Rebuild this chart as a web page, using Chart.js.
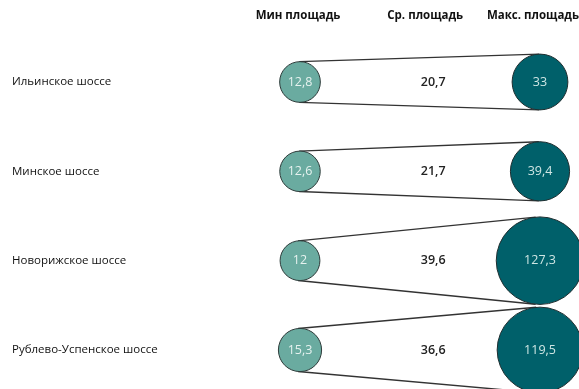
<!DOCTYPE html>
<html>
<head>
<meta charset="utf-8">
<script src="https://cdn.jsdelivr.net/npm/chart.js@4"></script>
<style>
  html, body { margin: 0; padding: 0; background: #fff; }
  #wrap { width: 579px; height: 389px; }
</style>
</head>
<body>
<div id="wrap"><canvas id="grafico"></canvas></div>
<script>
const shosse = ['Ильинское шоссе', 'Минское шоссе', 'Новорижское шоссе', 'Рублево-Успенское шоссе'];
const colunas = ['Мин площадь', 'Ср. площадь', 'Макс. площадь'];
const minPlosh = [12.8, 12.6, 12, 15.3];
const srPlosh = [20.7, 21.7, 39.6, 36.6];
const maxPlosh = [33, 39.4, 127.3, 119.5];

// where each column sits on the x scale
const colX = [0, 1.11, 2];

const fonte = 'Open Sans, Lato, sans-serif';

function raio(v) {
  return 8.7 * Math.cbrt(v);
}

function fmt(v) {
  return String(v).replace('.', ',');
}

function pontos(valores, col, comRaio) {
  return valores.map((v, i) => ({ x: colX[col], y: shosse[i], r: comRaio ? raio(v) : 0, v: v }));
}

// outer tangent lines joining the min and max circles of each row
const tangentes = {
  id: 'tangentes',
  beforeDatasetsDraw(chart) {
    const ctx = chart.ctx;
    const a = chart.getDatasetMeta(0).data;
    const b = chart.getDatasetMeta(2).data;
    ctx.save();
    ctx.strokeStyle = '#333';
    ctx.lineWidth = 1.4;
    a.forEach((p, i) => {
      const q = b[i];
      const r1 = p.options.radius, r2 = q.options.radius;
      const dx = q.x - p.x, dy = q.y - p.y;
      const d = Math.hypot(dx, dy);
      const th = Math.atan2(dy, dx);
      const al = Math.acos((r1 - r2) / d);
      [1, -1].forEach(s => {
        const ang = th + s * al;
        ctx.beginPath();
        ctx.moveTo(p.x + r1 * Math.cos(ang), p.y + r1 * Math.sin(ang));
        ctx.lineTo(q.x + r2 * Math.cos(ang), q.y + r2 * Math.sin(ang));
        ctx.stroke();
      });
    });
    ctx.restore();
  }
};

// value labels inside the circles and in the middle column, plus column headers
const rotulos = {
  id: 'rotulos',
  afterDatasetsDraw(chart) {
    const ctx = chart.ctx;
    const cores = ['#e6f2ef', '#222', '#cfe6e4'];
    const pesos = ['500', '600', '500'];
    ctx.save();
    ctx.textAlign = 'center';
    ctx.textBaseline = 'middle';
    chart.data.datasets.forEach((ds, k) => {
      ctx.font = pesos[k] + ' 12.5px ' + fonte;
      ctx.fillStyle = cores[k];
      chart.getDatasetMeta(k).data.forEach((el, i) => {
        ctx.fillText(fmt(ds.data[i].v), el.x, el.y);
      });
    });

    const xs = chart.scales.x;
    ctx.font = 'bold 11.5px ' + fonte;
    ctx.fillStyle = '#111';
    const deslocHeader = [-2, -8, -7];
    colunas.forEach((c, i) => {
      ctx.fillText(c, xs.getPixelForValue(colX[i]) + deslocHeader[i], 16);
    });
    ctx.restore();
  }
};

const ctx = document.getElementById('grafico').getContext('2d');
const grafico = new Chart(ctx, {
  type: 'bubble',
  data: {
    datasets: [
      {
        label: colunas[0],
        data: pontos(minPlosh, 0, true),
        backgroundColor: '#6aaba0',
        borderColor: '#2e3b3a',
        borderWidth: 1,
        clip: false
      },
      {
        label: colunas[1],
        data: pontos(srPlosh, 1, false),
        backgroundColor: 'rgba(0,0,0,0)',
        borderWidth: 0,
        clip: false
      },
      {
        label: colunas[2],
        data: pontos(maxPlosh, 2, true),
        backgroundColor: '#00606a',
        borderColor: '#1f2e30',
        borderWidth: 1,
        clip: false
      }
    ]
  },
  options: {
    responsive: true,
    maintainAspectRatio: false,
    animation: false,
    events: [],
    layout: { autoPadding: false, padding: { left: 12, right: 0, top: 0, bottom: 39 } },
    plugins: { legend: { display: false }, tooltip: { enabled: false } },
    scales: {
      x: {
        type: 'linear',
        position: 'top',
        bounds: 'data',
        min: -0.1667,
        max: 2.325,
        grid: { display: false },
        border: { display: false },
        ticks: { display: false },
        afterFit(scale) { scale.height = 82; }
      },
      y: {
        type: 'category',
        labels: shosse,
        offset: false,
        grid: { display: false },
        border: { display: false },
        afterFit(scale) { scale.width = 268; },
        ticks: {
          crossAlign: 'far',
          color: '#111',
          font: { family: fonte, size: 11.5 }
        }
      }
    }
  },
  plugins: [tangentes, rotulos]
});
</script>
</body>
</html>
